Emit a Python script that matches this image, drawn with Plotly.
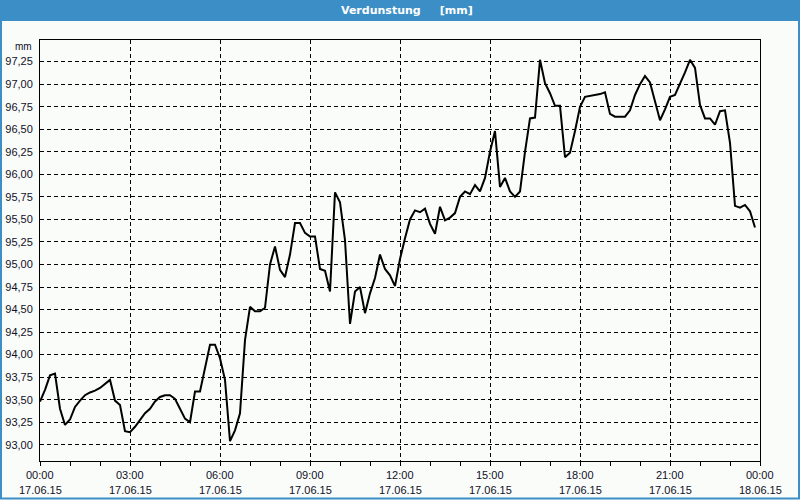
import pandas as pd
import plotly.graph_objects as go

# 10-minute values, 17.06.15 00:00 .. 23:50
values = [
    93.48, 93.61, 93.77, 93.79, 93.40, 93.22, 93.28, 93.42, 93.49, 93.55,
    93.58, 93.60, 93.63, 93.68, 93.72, 93.49, 93.44, 93.15, 93.14, 93.20,
    93.28, 93.35, 93.40, 93.48, 93.53, 93.55, 93.55, 93.51, 93.40, 93.29,
    93.25, 93.59, 93.59, 93.86, 94.11, 94.11, 93.96, 93.72, 93.04, 93.16,
    93.35, 94.16, 94.53, 94.48, 94.48, 94.52, 95.00, 95.20, 94.94, 94.86,
    95.11, 95.46, 95.46, 95.35, 95.31, 95.31, 94.95, 94.93, 94.70, 95.80,
    95.69, 95.27, 94.34, 94.70, 94.75, 94.46, 94.68, 94.85, 95.11, 94.95,
    94.88, 94.76, 95.06, 95.29, 95.50, 95.60, 95.58, 95.62, 95.45, 95.34,
    95.64, 95.49, 95.52, 95.57, 95.75, 95.81, 95.78, 95.88, 95.81, 95.96,
    96.25, 96.48, 95.86, 95.96, 95.81, 95.75, 95.81, 96.25, 96.62, 96.63,
    97.27, 97.01, 96.90, 96.76, 96.76, 96.19, 96.24, 96.48, 96.75, 96.86,
    96.87, 96.88, 96.89, 96.91, 96.67, 96.64, 96.64, 96.64, 96.71, 96.88,
    97.00, 97.09, 97.02, 96.81, 96.60, 96.72, 96.86, 96.88, 97.00, 97.13,
    97.27, 97.18, 96.77, 96.62, 96.62, 96.55, 96.70, 96.71, 96.35, 95.65,
    95.63, 95.66, 95.59, 95.41,
]
times = pd.date_range("2015-06-17 00:00", periods=len(values), freq="10min")

tick_times = pd.date_range("2015-06-17 00:00", "2015-06-18 00:00", freq="3h")
tick_time_labels = ["00:00", "03:00", "06:00", "09:00", "12:00",
                    "15:00", "18:00", "21:00", "00:00"]
tick_date_labels = ["17.06.15"] * 8 + ["18.06.15"]
title_text = "Verdunstung&nbsp;&nbsp;&nbsp;&nbsp; [mm]"
unit_text = "mm"

W, H = 800, 500
L, R, T, B = 40, 760, 40, 461
BG = "#fafcfa"
BLUE = "#3c8fc6"
TXT = "#101028"


def px(x):
    return (x - L) / (R - L)


def py(y):
    return (B - y) / (B - T)


fig = go.Figure()
fig.add_trace(go.Scatter(
    x=times, y=values, mode="lines",
    line=dict(color="black", width=2),
    hoverinfo="skip", showlegend=False,
))

grid = dict(showgrid=True, gridcolor="black", gridwidth=1, griddash="4px,3px")
xrange = [tick_times[0], tick_times[-1]]

annotations = [
    dict(text="<b>" + title_text + "</b>", xref="paper", yref="paper",
         x=px(407), y=py(10.5), xanchor="center", yanchor="middle",
         showarrow=False, font=dict(color="white", size=11,
                                    family="DejaVu Sans, sans-serif")),
    dict(text=unit_text, xref="paper", yref="paper",
         x=px(34), y=py(46), xanchor="right", yanchor="middle",
         showarrow=False, font=dict(size=10, color=TXT)),
]
for t, tl, dl in zip(tick_times, tick_time_labels, tick_date_labels):
    annotations.append(dict(text=tl, x=t, xref="x", y=py(475), yref="paper",
                            xanchor="center", yanchor="middle", showarrow=False,
                            font=dict(size=11, color=TXT)))
    annotations.append(dict(text=dl, x=t, xref="x", y=py(490), yref="paper",
                            xanchor="center", yanchor="middle", showarrow=False,
                            font=dict(size=11, color=TXT)))

fig.update_layout(
    width=W, height=H,
    margin=dict(l=L, r=W - R, t=T, b=H - B),
    paper_bgcolor=BG, plot_bgcolor=BG,
    separators=",.",
    font=dict(family="Liberation Sans, Arial, sans-serif", size=11, color=TXT),
    xaxis=dict(
        type="date", automargin=False, range=xrange,
        tickvals=list(tick_times), showticklabels=False,
        ticks="outside", ticklen=4, tickcolor="black",
        minor=dict(dtick=3600000, ticks="outside", ticklen=4, tickcolor="black", showgrid=False),
        showline=True, linecolor="black", linewidth=1, mirror=True,
        zeroline=False, **grid,
    ),
    yaxis=dict(
        automargin=False,
        range=[92.82, 97.49],
        tick0=93.0, dtick=0.25, tickformat=".2f",
        ticks="", ticklabelstandoff=4,
        showline=True, linecolor="black", linewidth=1, mirror=True,
        zeroline=False, **grid,
    ),
    shapes=[
        dict(type="rect", xref="paper", yref="paper", layer="above",
             x0=px(0), x1=px(W), y0=py(21), y1=py(0),
             fillcolor=BLUE, line=dict(width=0)),
        dict(type="rect", xref="paper", yref="paper", layer="above",
             x0=px(1), x1=px(W - 1), y0=py(H - 1.5), y1=py(1),
             fillcolor="rgba(0,0,0,0)", line=dict(color=BLUE, width=2)),
    ],
    annotations=annotations,
)

fig.write_html("out.html")
